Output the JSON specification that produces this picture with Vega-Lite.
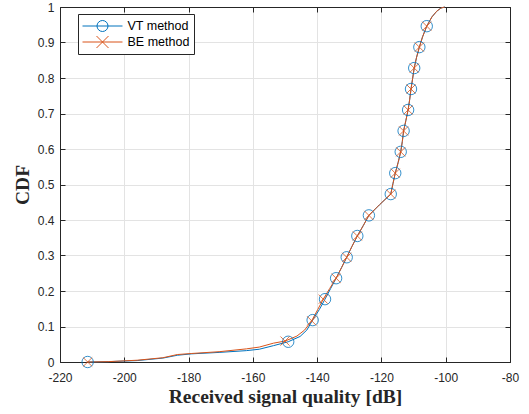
{
  "$schema": "https://vega.github.io/schema/vega-lite/v6.json",
  "width": 450,
  "height": 355,
  "autosize": "none",
  "padding": {"left": 60, "top": 7, "right": 19, "bottom": 52},
  "background": "white",
  "config": {"view": {"stroke": "#262626", "strokeWidth": 1}},
  "datasets": {
    "curves": [
      {"method": "VT method", "x": -211.4, "y": 0},
      {"method": "VT method", "x": -205, "y": 0.001},
      {"method": "VT method", "x": -196, "y": 0.004},
      {"method": "VT method", "x": -188, "y": 0.011},
      {"method": "VT method", "x": -183.5, "y": 0.019},
      {"method": "VT method", "x": -179, "y": 0.023},
      {"method": "VT method", "x": -170.5, "y": 0.027},
      {"method": "VT method", "x": -162, "y": 0.032},
      {"method": "VT method", "x": -158, "y": 0.036},
      {"method": "VT method", "x": -153.6, "y": 0.046},
      {"method": "VT method", "x": -149, "y": 0.057},
      {"method": "VT method", "x": -145.3, "y": 0.072},
      {"method": "VT method", "x": -143.2, "y": 0.09},
      {"method": "VT method", "x": -141.4, "y": 0.118},
      {"method": "VT method", "x": -139.3, "y": 0.148},
      {"method": "VT method", "x": -137.55, "y": 0.177},
      {"method": "VT method", "x": -135.8, "y": 0.207},
      {"method": "VT method", "x": -134.1, "y": 0.236},
      {"method": "VT method", "x": -132.4, "y": 0.266},
      {"method": "VT method", "x": -130.8, "y": 0.295},
      {"method": "VT method", "x": -129.2, "y": 0.325},
      {"method": "VT method", "x": -127.5, "y": 0.355},
      {"method": "VT method", "x": -125.6, "y": 0.385},
      {"method": "VT method", "x": -123.9, "y": 0.413},
      {"method": "VT method", "x": -120.6, "y": 0.443},
      {"method": "VT method", "x": -117.1, "y": 0.473},
      {"method": "VT method", "x": -116.4, "y": 0.503},
      {"method": "VT method", "x": -115.7, "y": 0.532},
      {"method": "VT method", "x": -114.8, "y": 0.562},
      {"method": "VT method", "x": -114.0, "y": 0.592},
      {"method": "VT method", "x": -113.5, "y": 0.621},
      {"method": "VT method", "x": -113.1, "y": 0.651},
      {"method": "VT method", "x": -112.4, "y": 0.68},
      {"method": "VT method", "x": -111.7, "y": 0.71},
      {"method": "VT method", "x": -111.2, "y": 0.74},
      {"method": "VT method", "x": -110.8, "y": 0.769},
      {"method": "VT method", "x": -110.3, "y": 0.798},
      {"method": "VT method", "x": -109.8, "y": 0.828},
      {"method": "VT method", "x": -109.1, "y": 0.857},
      {"method": "VT method", "x": -108.2, "y": 0.887},
      {"method": "VT method", "x": -107.2, "y": 0.916},
      {"method": "VT method", "x": -105.9, "y": 0.946},
      {"method": "VT method", "x": -104.3, "y": 0.972},
      {"method": "VT method", "x": -102.8, "y": 0.988},
      {"method": "VT method", "x": -101.5, "y": 0.997},
      {"method": "VT method", "x": -100.3, "y": 1.0},
      {"method": "BE method", "x": -211.4, "y": 0},
      {"method": "BE method", "x": -205, "y": 0.001},
      {"method": "BE method", "x": -196, "y": 0.005},
      {"method": "BE method", "x": -188, "y": 0.012},
      {"method": "BE method", "x": -183.5, "y": 0.021},
      {"method": "BE method", "x": -179, "y": 0.024},
      {"method": "BE method", "x": -170.5, "y": 0.029},
      {"method": "BE method", "x": -162, "y": 0.037},
      {"method": "BE method", "x": -158, "y": 0.042},
      {"method": "BE method", "x": -153.6, "y": 0.053},
      {"method": "BE method", "x": -150.0, "y": 0.059},
      {"method": "BE method", "x": -146.3, "y": 0.073},
      {"method": "BE method", "x": -143.9, "y": 0.09},
      {"method": "BE method", "x": -141.7, "y": 0.116},
      {"method": "BE method", "x": -139.8, "y": 0.148},
      {"method": "BE method", "x": -138.1, "y": 0.177},
      {"method": "BE method", "x": -136.1, "y": 0.207},
      {"method": "BE method", "x": -134.1, "y": 0.236},
      {"method": "BE method", "x": -132.4, "y": 0.266},
      {"method": "BE method", "x": -130.8, "y": 0.295},
      {"method": "BE method", "x": -129.2, "y": 0.325},
      {"method": "BE method", "x": -127.5, "y": 0.355},
      {"method": "BE method", "x": -125.6, "y": 0.385},
      {"method": "BE method", "x": -123.9, "y": 0.413},
      {"method": "BE method", "x": -120.6, "y": 0.443},
      {"method": "BE method", "x": -117.1, "y": 0.473},
      {"method": "BE method", "x": -116.4, "y": 0.503},
      {"method": "BE method", "x": -115.7, "y": 0.532},
      {"method": "BE method", "x": -114.8, "y": 0.562},
      {"method": "BE method", "x": -114.0, "y": 0.592},
      {"method": "BE method", "x": -113.5, "y": 0.621},
      {"method": "BE method", "x": -113.1, "y": 0.651},
      {"method": "BE method", "x": -112.4, "y": 0.68},
      {"method": "BE method", "x": -111.7, "y": 0.71},
      {"method": "BE method", "x": -111.2, "y": 0.74},
      {"method": "BE method", "x": -110.8, "y": 0.769},
      {"method": "BE method", "x": -110.3, "y": 0.798},
      {"method": "BE method", "x": -109.8, "y": 0.828},
      {"method": "BE method", "x": -109.1, "y": 0.857},
      {"method": "BE method", "x": -108.2, "y": 0.887},
      {"method": "BE method", "x": -107.2, "y": 0.916},
      {"method": "BE method", "x": -105.9, "y": 0.946},
      {"method": "BE method", "x": -104.3, "y": 0.972},
      {"method": "BE method", "x": -102.8, "y": 0.988},
      {"method": "BE method", "x": -101.5, "y": 0.997},
      {"method": "BE method", "x": -100.3, "y": 1.0}
    ],
    "markers": [
      {"method": "VT method", "x": -211.4, "y": 0},
      {"method": "VT method", "x": -149, "y": 0.057},
      {"method": "VT method", "x": -141.4, "y": 0.118},
      {"method": "VT method", "x": -137.55, "y": 0.177},
      {"method": "VT method", "x": -134.1, "y": 0.236},
      {"method": "VT method", "x": -130.8, "y": 0.295},
      {"method": "VT method", "x": -127.5, "y": 0.355},
      {"method": "VT method", "x": -123.9, "y": 0.413},
      {"method": "VT method", "x": -117.1, "y": 0.473},
      {"method": "VT method", "x": -115.7, "y": 0.532},
      {"method": "VT method", "x": -114.0, "y": 0.592},
      {"method": "VT method", "x": -113.1, "y": 0.651},
      {"method": "VT method", "x": -111.7, "y": 0.71},
      {"method": "VT method", "x": -110.8, "y": 0.769},
      {"method": "VT method", "x": -109.8, "y": 0.828},
      {"method": "VT method", "x": -108.2, "y": 0.887},
      {"method": "VT method", "x": -105.9, "y": 0.946},
      {"method": "BE method", "x": -211.4, "y": 0},
      {"method": "BE method", "x": -150.0, "y": 0.059},
      {"method": "BE method", "x": -141.7, "y": 0.116},
      {"method": "BE method", "x": -138.1, "y": 0.177},
      {"method": "BE method", "x": -134.1, "y": 0.236},
      {"method": "BE method", "x": -130.8, "y": 0.295},
      {"method": "BE method", "x": -127.5, "y": 0.355},
      {"method": "BE method", "x": -123.9, "y": 0.413},
      {"method": "BE method", "x": -117.1, "y": 0.473},
      {"method": "BE method", "x": -115.7, "y": 0.532},
      {"method": "BE method", "x": -114.0, "y": 0.592},
      {"method": "BE method", "x": -113.1, "y": 0.651},
      {"method": "BE method", "x": -111.7, "y": 0.71},
      {"method": "BE method", "x": -110.8, "y": 0.769},
      {"method": "BE method", "x": -109.8, "y": 0.828},
      {"method": "BE method", "x": -108.2, "y": 0.887},
      {"method": "BE method", "x": -105.9, "y": 0.946}
    ]
  },
  "resolve": {
    "axis": {"x": "independent", "y": "independent"},
    "legend": {"color": "independent", "shape": "independent"}
  },
  "layer": [
    {
      "data": {"name": "curves"},
      "mark": {"type": "line", "strokeWidth": 1},
      "encoding": {
        "x": {
          "field": "x", "type": "quantitative",
          "scale": {"domain": [-220, -80], "nice": false, "zero": false},
          "axis": {
            "orient": "bottom",
            "values": [-220, -200, -180, -160, -140, -120, -100, -80],
            "labelExpr": "'' + datum.value",
            "title": "Received signal quality [dB]",
            "titleFont": "Liberation Serif", "titleFontSize": 19.5, "titleFontWeight": "bold", "titleColor": "#262626", "titlePadding": 4,
            "labelFont": "Liberation Sans", "labelFontSize": 12, "labelColor": "#262626", "labelPadding": 15,
            "labelFlush": false, "labelOverlap": false,
            "tickSize": -5, "tickColor": "#262626", "domainColor": "#262626",
            "grid": true, "gridColor": "#e3e3e3", "gridWidth": 1
          }
        },
        "y": {
          "field": "y", "type": "quantitative",
          "scale": {"domain": [0, 1], "nice": false},
          "axis": {
            "orient": "left",
            "values": [0, 0.1, 0.2, 0.3, 0.4, 0.5, 0.6, 0.7, 0.8, 0.9, 1],
            "labelExpr": "'' + datum.value",
            "title": "CDF",
            "titleFont": "Liberation Serif", "titleFontSize": 19.5, "titleFontWeight": "bold", "titleColor": "#262626", "titlePadding": 5,
            "labelFont": "Liberation Sans", "labelFontSize": 12, "labelColor": "#262626", "labelPadding": 11,
            "labelFlush": false, "labelOverlap": false,
            "tickSize": -5, "tickColor": "#262626", "domainColor": "#262626",
            "grid": true, "gridColor": "#e3e3e3", "gridWidth": 1
          }
        },
        "color": {
          "field": "method", "type": "nominal",
          "scale": {"domain": ["VT method", "BE method"], "range": ["#0072BD", "#D95319"]},
          "legend": {
            "title": null, "orient": "none", "legendX": 18, "legendY": 7,
            "direction": "vertical", "padding": 4, "rowPadding": 0,
            "strokeColor": "#262626", "fillColor": "white",
            "symbolSize": 225, "labelOffset": 29.5, "symbolStrokeWidth": 1,
            "labelFont": "Liberation Sans", "labelFontSize": 12.5, "labelColor": "#000000",
            "encode": {
              "symbols": {
                "update": {
                  "shape": {"signal": "datum.value === 'VT method' ? 'M-1,0L4.333,0M2.4,0A0.733,0.733 0 1,1 0.933,0A0.733,0.733 0 1,1 2.4,0' : 'M-1,0L4.333,0M0.867,-0.8L2.467,0.8M0.867,0.8L2.467,-0.8'"},
                  "fill": {"value": "transparent"},
                  "strokeWidth": {"value": 1}
                }
              }
            }
          }
        }
      }
    },
    {
      "data": {"name": "markers"},
      "mark": {"type": "point", "filled": false, "strokeWidth": 0.8, "size": 130, "opacity": 1},
      "encoding": {
        "x": {
          "field": "x", "type": "quantitative",
          "scale": {"domain": [-220, -80], "nice": false, "zero": false},
          "axis": {
            "orient": "top", "values": [-220, -200, -180, -160, -140, -120, -100, -80],
            "labels": false, "title": null, "grid": false,
            "tickSize": -5, "tickColor": "#262626", "domainColor": "#262626"
          }
        },
        "y": {
          "field": "y", "type": "quantitative",
          "scale": {"domain": [0, 1], "nice": false},
          "axis": {
            "orient": "right", "values": [0, 0.1, 0.2, 0.3, 0.4, 0.5, 0.6, 0.7, 0.8, 0.9, 1],
            "labels": false, "title": null, "grid": false,
            "tickSize": -5, "tickColor": "#262626", "domainColor": "#262626"
          }
        },
        "color": {
          "field": "method", "type": "nominal",
          "scale": {"domain": ["VT method", "BE method"], "range": ["#0072BD", "#D95319"]},
          "legend": null
        },
        "shape": {
          "field": "method", "type": "nominal",
          "scale": {"domain": ["VT method", "BE method"], "range": ["circle", "M-0.8,-0.8L0.8,0.8M-0.8,0.8L0.8,-0.8"]},
          "legend": null
        }
      }
    }
  ]
}
